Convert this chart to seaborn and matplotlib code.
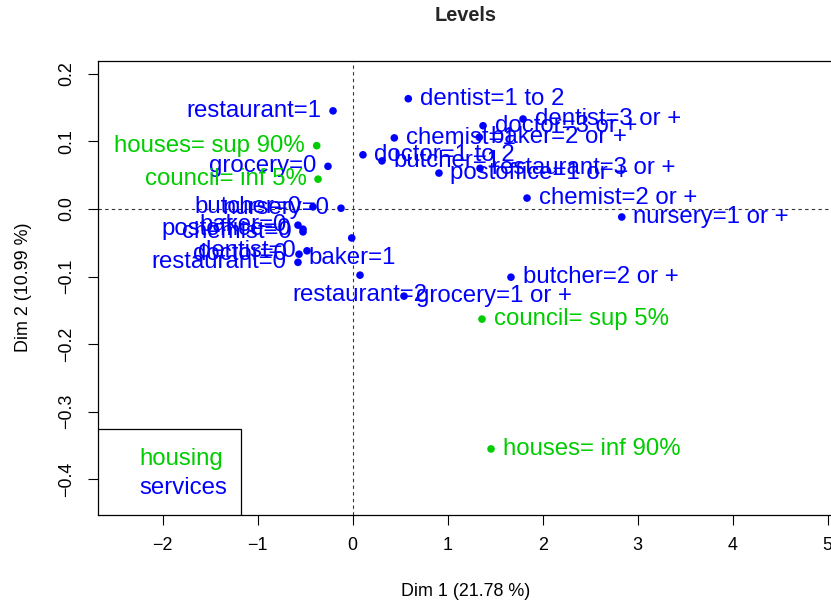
import pandas as pd
import seaborn as sns
import matplotlib
matplotlib.use("Agg")
import matplotlib.pyplot as plt
from matplotlib.lines import Line2D
from matplotlib.patches import Rectangle

services_labels = [
    "restaurant=1", "dentist=1 to 2", "dentist=3 or +", "doctor=3 or +",
    "baker=2 or +", "chemist=1", "doctor=1 to 2", "butcher=1",
    "postoffice=1 or +", "restaurant=3 or +", "chemist=2 or +", "nursery=1 or +",
    "grocery=0", "butcher=0", "nursery=0", "baker=0", "postoffice=0",
    "chemist=0", "baker=1", "dentist=0", "doctor=0", "restaurant=0",
    "restaurant=2", "grocery=1 or +", "butcher=2 or +",
]
services_dim1 = [
    -0.207, 0.585, 1.793, 1.372,
    1.333, 0.438, 0.108, 0.308,
    0.908, 1.340, 1.835, 2.832,
    -0.260, -0.418, -0.123, -0.576, -0.523,
    -0.523, -0.010, -0.481, -0.565, -0.576,
    0.077, 0.540, 1.666,
]
services_dim2 = [
    0.145, 0.163, 0.133, 0.123,
    0.106, 0.105, 0.080, 0.071,
    0.053, 0.060, 0.016, -0.012,
    0.063, 0.003, 0.001, -0.024, -0.030,
    -0.034, -0.043, -0.062, -0.067, -0.079,
    -0.098, -0.129, -0.101,
]

housing_labels = ["houses= sup 90%", "council= inf 5%", "council= sup 5%", "houses= inf 90%"]
housing_dim1 = [-0.379, -0.365, 1.361, 1.456]
housing_dim2 = [0.0935, 0.044, -0.163, -0.355]

x_ticks = [-2, -1, 0, 1, 2, 3, 4, 5]
y_ticks = [-0.4, -0.3, -0.2, -0.1, 0.0, 0.1, 0.2]

# which side of the point each label sits on (R text pos: 1 below, 2 left, 4 right)
label_side = {
    "restaurant=1": 2, "grocery=0": 2, "butcher=0": 2, "nursery=0": 2,
    "baker=0": 2, "postoffice=0": 2, "chemist=0": 2, "dentist=0": 2,
    "doctor=0": 2, "restaurant=0": 2, "baker=1": 1, "restaurant=2": 1,
    "houses= sup 90%": 2, "council= inf 5%": 2,
}

colors = {"housing": "#00CD00", "services": "#0000FF"}

df = pd.concat([
    pd.DataFrame({"label": services_labels, "dim1": services_dim1,
                  "dim2": services_dim2, "group": "services"}),
    pd.DataFrame({"label": housing_labels, "dim1": housing_dim1,
                  "dim2": housing_dim2, "group": "housing"}),
], ignore_index=True)

sns.set_theme(style="ticks")
plt.rcParams["font.family"] = ["Liberation Sans", "DejaVu Sans"]
plt.rcParams["axes.unicode_minus"] = True

fig = plt.figure(figsize=(8.31, 6.04), dpi=100)
ax = fig.add_axes([97.7 / 831, 89.5 / 604, (834 - 97.7) / 831, 453.8 / 604])

ax.axhline(0, color="#333333", lw=0.8, ls=(0, (3, 3)), zorder=1)
ax.axvline(0, color="#333333", lw=0.8, ls=(0, (3, 3)), zorder=1)

sns.scatterplot(data=df, x="dim1", y="dim2", hue="group", palette=colors,
                s=30, linewidth=0, legend=False, ax=ax, zorder=3)

for _, row in df.iterrows():
    side = label_side.get(row["label"], 4)
    if side == 2:
        off, ha = (-8.3, 0), "right"
    elif side == 1:
        off, ha = (0, -14.2), "center"
    else:
        off, ha = (8.3, 0), "left"
    ax.annotate(row["label"], (row["dim1"], row["dim2"]), xytext=off,
                textcoords="offset points", ha=ha, va="center",
                fontsize=17.3, color=colors[row["group"]], zorder=4)

ax.set_xlim(-2.684, 5.066)
ax.set_ylim(-0.452, 0.2192)
ax.set_xticks(x_ticks)
ax.set_yticks(y_ticks)
ax.set_xticklabels([str(t).replace("-", "\u2212") for t in x_ticks])
ax.set_yticklabels([f"{t:.1f}".replace("-", "\u2212") for t in y_ticks])
ax.tick_params(axis="both", direction="out", length=7.2, width=0.8,
               color="black", labelsize=12.9, labelcolor="black", pad=9)
for lab in ax.get_yticklabels():
    lab.set_rotation(90)
    lab.set_va("center")
    lab.set_ha("right")

for sp in ax.spines.values():
    sp.set_visible(True)
    sp.set_color("black")
    sp.set_linewidth(0.9)

ax.set_xlabel("Dim 1 (21.78 %)", fontsize=12.9, color="black")
ax.set_ylabel("Dim 2 (10.99 %)", fontsize=12.9, color="black")
ax.xaxis.set_label_coords(0.5, (514.5 - 591) / 453.8)
ax.xaxis.label.set_va("center")
ax.yaxis.set_label_coords((23 - 97.7) / 736.3, 0.5)
ax.yaxis.label.set_va("center")

ax.set_title("Levels", fontweight="bold", fontsize=14.4,
             y=1 + (60.7 - 16) / 453.8, va="center", pad=0)

# legend: plain coloured words inside a square box in the lower-left corner
ax.add_patch(Rectangle((0, 0), (240.7 - 97.7) / 736.3, (514.5 - 429.3) / 453.8,
                       transform=ax.transAxes, facecolor="white",
                       edgecolor="black", lw=0.9, zorder=5))
handles = [Line2D([], [], ls="none") for _ in colors]
leg = ax.legend(handles, list(colors.keys()), loc="center left",
                bbox_to_anchor=((139 - 97.7) / 736.3, (514.5 - 473.5) / 453.8),
                borderaxespad=0, frameon=False, fontsize=17.3,
                handlelength=0, handletextpad=0, borderpad=0,
                labelspacing=0.25, labelcolor=list(colors.values()))
leg.set_zorder(6)

fig.savefig("out.png", dpi=100)
